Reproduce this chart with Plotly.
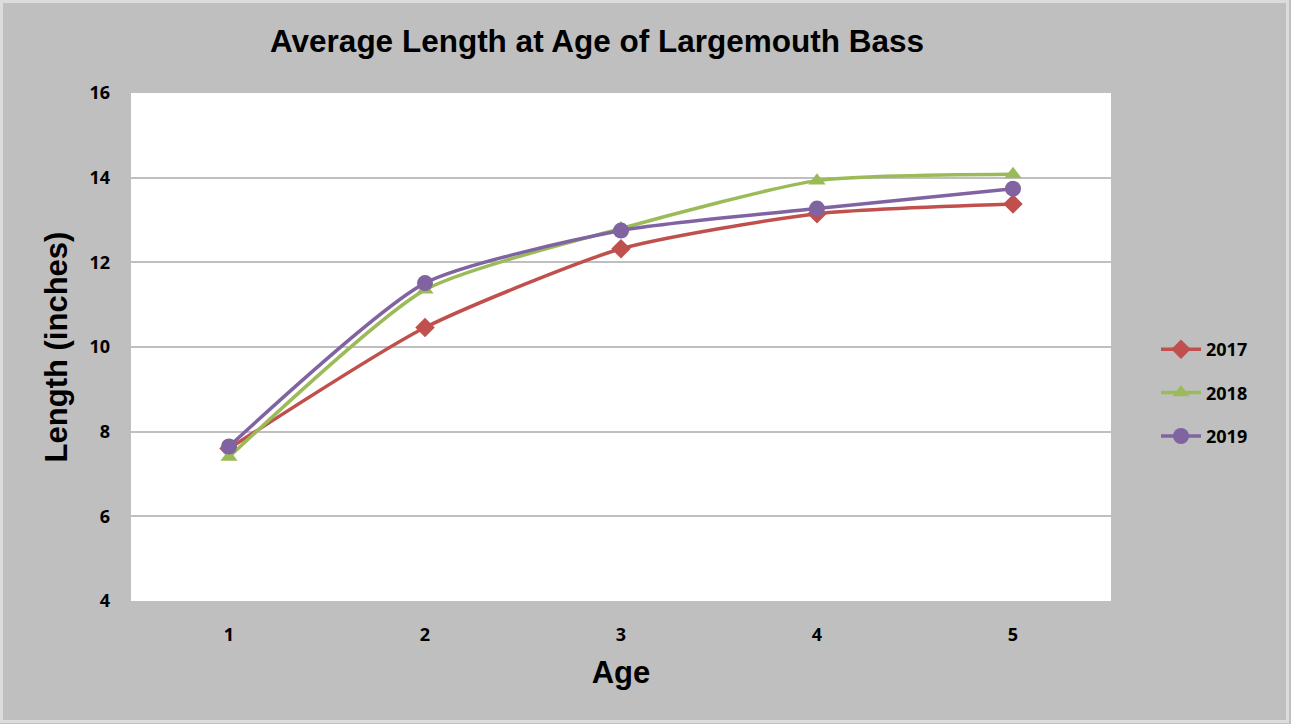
import plotly.graph_objects as go

ages = ["1", "2", "3", "4", "5"]
len_2017 = [7.60, 10.46, 12.32, 13.15, 13.38]
len_2018 = [7.40, 11.35, 12.80, 13.93, 14.08]
len_2019 = [7.65, 11.51, 12.75, 13.27, 13.74]
y_ticks = [4, 6, 8, 10, 12, 14, 16]

series = [
    ("2017", len_2017, "#C0504D", "diamond", 15),
    ("2018", len_2018, "#9BBB59", "triangle-up", 15),
    ("2019", len_2019, "#8064A2", "circle", 16),
]

fig = go.Figure()
for name, vals, color, sym, size in series:
    fig.add_trace(go.Scatter(
        x=ages, y=vals, name=name, mode="lines+markers",
        line=dict(color=color, width=3.5, shape="spline", smoothing=0.6),
        marker=dict(symbol=sym, size=size, color=color),
        legendgroup=name,
    ))

W, H = 1291, 724
ml, mr, mt, mb = 131, 180, 93, 123
pw, ph = W - ml - mr, H - mt - mb

def px_x(p):
    return (p - ml) / pw

def px_y(p):
    return (H - mb - p) / ph

tick_font = dict(family="Open Sans, Liberation Sans", size=18, color="#000000", weight="bold")

fig.update_layout(
    width=W, height=H,
    margin=dict(l=ml, r=mr, t=mt, b=mb),
    paper_bgcolor="#BFBFBF",
    plot_bgcolor="#FFFFFF",
    title=dict(text="<b>Average Length at Age of Largemouth Bass</b>",
               x=px_x(597), xref="paper", xanchor="center",
               y=1 - 41 / H, yanchor="middle",
               font=dict(family="Liberation Sans, Arial", size=31.5, color="#000000")),
    font=dict(family="Open Sans, Liberation Sans", color="#000000"),
    legend=dict(x=px_x(1156), xanchor="left", y=px_y(331), yanchor="top",
                bgcolor="rgba(0,0,0,0)", tracegroupgap=17,
                font=dict(family="Open Sans, Liberation Sans", size=18, color="#000000",
                          weight="bold"),
                itemwidth=40),
    shapes=[dict(type="rect", xref="paper", yref="paper",
                 x0=px_x(1.5), x1=px_x(1287.5), y0=px_y(721.5), y1=px_y(1.5),
                 line=dict(color="#DCDCDC", width=3), layer="below")],
)

fig.update_xaxes(
    type="category", range=[-0.5, 4.5], showgrid=False, showline=False, zeroline=False,
    ticks="", ticklabelstandoff=21, tickfont=tick_font,
    title=dict(text="<b>Age</b>", standoff=16,
               font=dict(family="Liberation Sans, Arial", size=31, color="#000000")),
)
fig.update_yaxes(
    range=[4, 16], tickvals=y_ticks, showgrid=True, gridcolor="#BFBFBF", gridwidth=1.5,
    showline=False, zeroline=False, ticks="", ticklabelstandoff=20, tickfont=tick_font,
    title=dict(text="<b>Length (inches)</b>", standoff=12,
               font=dict(family="Liberation Sans, Arial", size=31, color="#000000")),
)

fig.write_html("out.html", config={"displayModeBar": False},
               post_script="document.body.style.margin='0';document.body.style.overflow='hidden';")
